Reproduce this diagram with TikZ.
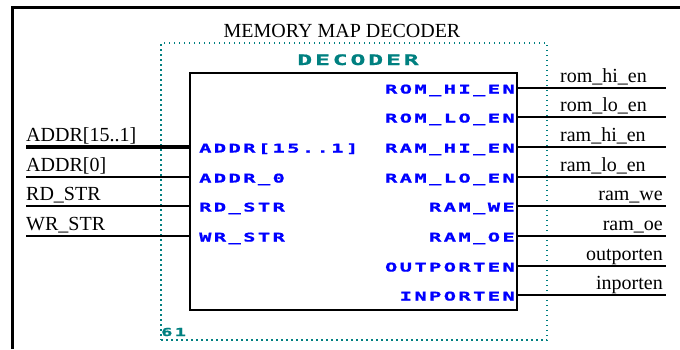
\documentclass[tikz,border=0pt]{standalone}
\usepackage{fontspec}
\setmainfont{Liberation Serif}
\newfontfamily\pinfont[FakeStretch=1.7,FakeBold=1.2,LetterSpace=20]{DejaVu Sans Mono Bold}
\usetikzlibrary{positioning}

\definecolor{pinblue}{RGB}{0,0,255}
\definecolor{symteal}{RGB}{0,128,128}

\tikzset{
    wire/.style={line width=1.5pt},
    bus/.style={line width=4pt},
    netlabel/.style={font=\fontsize{20}{22}\selectfont, inner sep=0pt},
    pinlabel/.style={font=\pinfont\fontsize{12}{13}\selectfont, text=pinblue, inner sep=0pt},
    symlabel/.style={font=\pinfont\fontsize{14.5}{16}\selectfont, text=symteal, inner sep=0pt},
}

\begin{document}
\begin{tikzpicture}[x=1pt, y=-1pt]
    \useasboundingbox (0,0) rectangle (680,349);

    % sheet frame
    \draw[line width=3pt] (12,349) -- (12,7) -- (680,7);

    % title
    \node[netlabel, anchor=base] (title) at (342,37) {MEMORY MAP DECODER};

    % symbol outline
    \node[draw=symteal, line width=1.5pt, dash pattern=on 1.5pt off 3.5pt,
          minimum width=386pt, minimum height=297pt, inner sep=0pt] (sym) at (354,191.5) {};
    \node[symlabel, anchor=base] (symname) at (358,65) {DECODER};
    \node[symlabel, font=\pinfont\fontsize{11}{12}\selectfont, anchor=base west] (symref) at (161,336) {61};

    % decoder body
    \node[draw, line width=2pt, minimum width=327pt, minimum height=237pt, inner sep=0pt] (dec) at (353.5,191.5) {};

    % inputs
    \coordinate (addrhi) at (26,147);
    \coordinate (addrlo) at (26,177);
    \coordinate (rdstr) at (26,206);
    \coordinate (wrstr) at (26,236);
    \draw[bus] (addrhi) -- (addrhi -| dec.west);
    \draw[wire] (addrlo) -- (addrlo -| dec.west);
    \draw[wire] (rdstr) -- (rdstr -| dec.west);
    \draw[wire] (wrstr) -- (wrstr -| dec.west);
    \node[netlabel, anchor=base west] (addrhiNet) at (26,141) {ADDR[15..1]};
    \node[netlabel, anchor=base west] (addrloNet) at (26,171) {ADDR[0]};
    \node[netlabel, anchor=base west] (rdstrNet) at (26,200) {RD\_STR};
    \node[netlabel, anchor=base west] (wrstrNet) at (26,230) {WR\_STR};
    \node[pinlabel, anchor=base west] (addrhiPin) at (199,152.5) {ADDR[15..1]};
    \node[pinlabel, anchor=base west] (addrloPin) at (199,182.5) {ADDR\_0};
    \node[pinlabel, anchor=base west] (rdstrPin) at (199,211.5) {RD\_STR};
    \node[pinlabel, anchor=base west] (wrstrPin) at (199,241.5) {WR\_STR};

    % outputs
    \coordinate (romhi) at (666,88);
    \coordinate (romlo) at (666,117);
    \coordinate (ramhi) at (666,147);
    \coordinate (ramlo) at (666,177);
    \coordinate (ramwe) at (666,206);
    \coordinate (ramoe) at (666,236);
    \coordinate (outp) at (666,266);
    \coordinate (inp) at (666,295);
    \draw[wire] (romhi -| dec.east) -- (romhi);
    \draw[wire] (romlo -| dec.east) -- (romlo);
    \draw[wire] (ramhi -| dec.east) -- (ramhi);
    \draw[wire] (ramlo -| dec.east) -- (ramlo);
    \draw[wire] (ramwe -| dec.east) -- (ramwe);
    \draw[wire] (ramoe -| dec.east) -- (ramoe);
    \draw[wire] (outp -| dec.east) -- (outp);
    \draw[wire] (inp -| dec.east) -- (inp);
    \node[netlabel, anchor=base west] (romhiNet) at (560,82) {rom\_hi\_en};
    \node[netlabel, anchor=base west] (romloNet) at (560,111) {rom\_lo\_en};
    \node[netlabel, anchor=base west] (ramhiNet) at (560,141) {ram\_hi\_en};
    \node[netlabel, anchor=base west] (ramloNet) at (560,171) {ram\_lo\_en};
    \node[netlabel, anchor=base east] (ramweNet) at (663,200) {ram\_we};
    \node[netlabel, anchor=base east] (ramoeNet) at (663,230) {ram\_oe};
    \node[netlabel, anchor=base east] (outpNet) at (663,260) {outporten};
    \node[netlabel, anchor=base east] (inpNet) at (663,289) {inporten};
    \node[pinlabel, anchor=base east] (romhiPin) at (515,93.5) {ROM\_HI\_EN};
    \node[pinlabel, anchor=base east] (romloPin) at (515,122.5) {ROM\_LO\_EN};
    \node[pinlabel, anchor=base east] (ramhiPin) at (515,152.5) {RAM\_HI\_EN};
    \node[pinlabel, anchor=base east] (ramloPin) at (515,182.5) {RAM\_LO\_EN};
    \node[pinlabel, anchor=base east] (ramwePin) at (515,211.5) {RAM\_WE};
    \node[pinlabel, anchor=base east] (ramoePin) at (515,241.5) {RAM\_OE};
    \node[pinlabel, anchor=base east] (outpPin) at (515,271.5) {OUTPORTEN};
    \node[pinlabel, anchor=base east] (inpPin) at (515,300.5) {INPORTEN};
\end{tikzpicture}
\end{document}
